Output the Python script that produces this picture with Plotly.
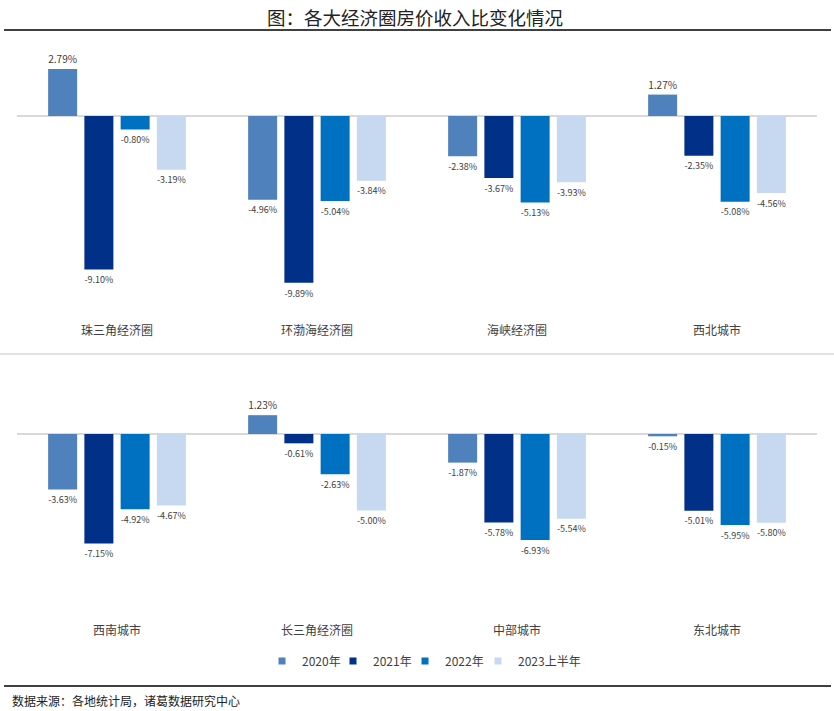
import plotly.graph_objects as go

W, H = 834, 711

cats_top = ["珠三角经济圈", "环渤海经济圈", "海峡经济圈", "西北城市"]
cats_bot = ["西南城市", "长三角经济圈", "中部城市", "东北城市"]
series_names = ["2020年", "2021年", "2022年", "2023上半年"]
colors = ["#4F81BD", "#003087", "#0070C0", "#C6D9F0"]

v2020_top = [2.79, -4.96, -2.38, 1.27]
v2021_top = [-9.10, -9.89, -3.67, -2.35]
v2022_top = [-0.80, -5.04, -5.13, -5.08]
v2023_top = [-3.19, -3.84, -3.93, -4.56]

v2020_bot = [-3.63, 1.23, -1.87, -0.15]
v2021_bot = [-7.15, -0.61, -5.78, -5.01]
v2022_bot = [-4.92, -2.63, -6.93, -5.95]
v2023_bot = [-4.67, -5.00, -5.54, -5.80]

top_vals = [v2020_top, v2021_top, v2022_top, v2023_top]
bot_vals = [v2020_bot, v2021_bot, v2022_bot, v2023_bot]

FONT = "Noto Sans CJK SC, Noto Sans, sans-serif"
TXT = "#404040"


def py(px):
    return 1 - px / H


def px_x(px):
    return px / W


legend_ids = ["legend", "legend2", "legend3", "legend4"]

fig = go.Figure()
for i, name in enumerate(series_names):
    fig.add_trace(go.Bar(
        x=cats_top, y=top_vals[i], name=name, marker_color=colors[i],
        marker_line_width=0, xaxis="x", yaxis="y",
        texttemplate="%{y:.2f}%", textposition="outside", cliponaxis=False,
        textfont=dict(size=11, color=TXT, family=FONT),
        showlegend=False, hoverinfo="skip",
    ))
for i, name in enumerate(series_names):
    fig.add_trace(go.Bar(
        x=cats_bot, y=bot_vals[i], name=name, marker_color=colors[i],
        marker_line_width=0, xaxis="x2", yaxis="y2",
        texttemplate="%{y:.2f}%", textposition="outside", cliponaxis=False,
        textfont=dict(size=11, color=TXT, family=FONT),
        showlegend=False, hoverinfo="skip",
    ))
# legend entries (small square keys like the reference)
for i, name in enumerate(series_names):
    fig.add_trace(go.Scatter(
        x=[None], y=[None], mode="markers", name=name,
        marker=dict(symbol="square", size=7, color=colors[i]),
        xaxis="x", yaxis="y", showlegend=True, legend=legend_ids[i],
    ))

top_y0, top_y1 = 36, 322
top_zero, top_scale = 116, 16.87
bot_y0, bot_y1 = 360, 622
bot_zero, bot_scale = 434, 15.3

xdom = [px_x(17), px_x(817)]
axis_common = dict(showgrid=False, showticklabels=False, ticks="", showline=False,
                   zeroline=True, zerolinecolor="#D9D9D9", zerolinewidth=1.5)
xaxis_common = dict(showgrid=False, showline=False, ticks="", zeroline=False,
                    tickfont=dict(size=12, color=TXT, family=FONT))

legend_left_px = [262, 333, 405, 478]
legends = {}
for lid, lx in zip(legend_ids, legend_left_px):
    legends[lid] = dict(orientation="h", x=px_x(lx), xanchor="left", y=py(661), yanchor="middle",
                        font=dict(size=12, color=TXT, family=FONT),
                        bgcolor="rgba(0,0,0,0)", borderwidth=0)

fig.update_layout(
    width=W, height=H,
    margin=dict(l=0, r=0, t=0, b=0),
    paper_bgcolor="white", plot_bgcolor="white",
    barmode="group", bargap=0.275, bargroupgap=0.2,
    font=dict(family=FONT, color=TXT),
    xaxis=dict(domain=xdom, anchor="y", **xaxis_common),
    yaxis=dict(domain=[py(top_y1), py(top_y0)], anchor="x",
               range=[-(top_y1 - top_zero) / top_scale, (top_zero - top_y0) / top_scale],
               **axis_common),
    xaxis2=dict(domain=xdom, anchor="y2", **xaxis_common),
    yaxis2=dict(domain=[py(bot_y1), py(bot_y0)], anchor="x2",
                range=[-(bot_y1 - bot_zero) / bot_scale, (bot_zero - bot_y0) / bot_scale],
                **axis_common),
    showlegend=True,
    **legends,
)

fig.add_annotation(text="图：各大经济圈房价收入比变化情况", x=0.498, y=py(17), xref="paper", yref="paper",
                   showarrow=False, xanchor="center", yanchor="middle",
                   font=dict(size=18.5, color="#222222", family=FONT))
fig.add_annotation(text="数据来源：各地统计局，诸葛数据研究中心", x=px_x(10), y=py(700), xref="paper", yref="paper",
                   showarrow=False, xanchor="left", yanchor="middle",
                   font=dict(size=12, color="#222222", family=FONT))

fig.add_shape(type="line", xref="paper", yref="paper", x0=px_x(4), x1=px_x(831), y0=py(30), y1=py(30),
              line=dict(color="#000000", width=1.5))
fig.add_shape(type="line", xref="paper", yref="paper", x0=px_x(4), x1=px_x(831), y0=py(686), y1=py(686),
              line=dict(color="#000000", width=1.5))
fig.add_shape(type="line", xref="paper", yref="paper", x0=0, x1=1, y0=py(354), y1=py(354),
              line=dict(color="#D9D9D9", width=1.5))

fig.write_html("out.html", config={"displayModeBar": False},
               post_script="document.body.style.margin='0px';document.body.style.padding='0px';")
